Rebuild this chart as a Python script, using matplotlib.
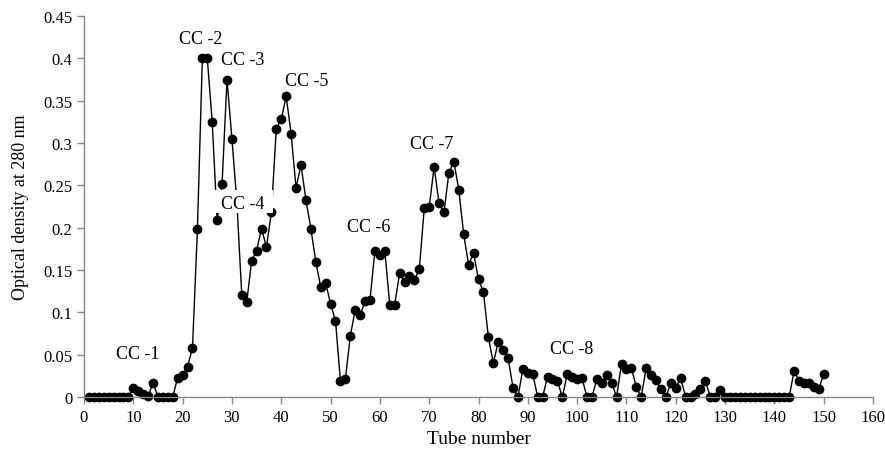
import matplotlib
matplotlib.use("Agg")
import matplotlib.pyplot as plt
from matplotlib.patches import Rectangle
import numpy as np

plt.rcParams['font.family'] = ['Liberation Serif', 'DejaVu Serif']

tubes = list(range(1, 151))
optical_density = (
    [0.0] * 9 +
    [0.011, 0.007, 0.003, 0.001, 0.017] +
    [0.0] * 4 +
    [0.023, 0.026, 0.036, 0.058, 0.198, 0.400, 0.400, 0.325, 0.209, 0.252,
     0.375, 0.305, 0.230, 0.120, 0.112, 0.161, 0.173, 0.199, 0.177, 0.218,
     0.317, 0.328, 0.355, 0.311, 0.247, 0.274, 0.233, 0.199, 0.160, 0.130,
     0.135, 0.110, 0.090, 0.019, 0.021, 0.072, 0.103, 0.097, 0.113, 0.115,
     0.173, 0.168, 0.173, 0.109, 0.109, 0.146, 0.136, 0.143, 0.138, 0.151,
     0.223, 0.224, 0.272, 0.229, 0.218, 0.265, 0.278, 0.245, 0.192, 0.156,
     0.170, 0.139, 0.124, 0.071, 0.040, 0.065, 0.056, 0.046, 0.011, 0.000,
     0.033, 0.028, 0.027, 0.000, 0.000, 0.024, 0.021, 0.019, 0.000, 0.027,
     0.024, 0.021, 0.022, 0.000, 0.000, 0.021, 0.017, 0.026, 0.017, 0.000,
     0.039, 0.033, 0.034, 0.012, 0.000, 0.034, 0.026, 0.020, 0.009, 0.000,
     0.016, 0.011, 0.022, 0.000, 0.000, 0.004, 0.010, 0.019, 0.000, 0.000,
     0.008] +
    [0.0] * 14 +
    [0.031, 0.019, 0.016, 0.017, 0.012, 0.009, 0.027]
)
assert len(optical_density) == len(tubes)

peak_labels = ["CC -1", "CC -2", "CC -3", "CC -4", "CC -5", "CC -6", "CC -7", "CC -8"]
label_x = [10.8, 23.6, 32.2, 32.2, 45.2, 57.8, 70.5, 98.8]
label_y = [0.051, 0.423, 0.399, 0.228, 0.374, 0.201, 0.299, 0.057]

x_ticks = list(range(0, 161, 10))
y_ticks = [0, 0.05, 0.1, 0.15, 0.2, 0.25, 0.3, 0.35, 0.4, 0.45]
y_tick_labels = ["0", "0.05", "0.1", "0.15", "0.2", "0.25", "0.3", "0.35", "0.4", "0.45"]

fig = plt.figure(figsize=(8.85, 4.56), dpi=100)
ax = fig.add_axes([84 / 885, 1 - 398 / 456, (873 - 84) / 885, (398 - 17) / 456])

ax.plot(tubes, optical_density, color='black', linewidth=1.0, marker='o',
        markersize=6, markerfacecolor='black', markeredgecolor='black',
        clip_on=False, zorder=2)

for txt, lx, ly in zip(peak_labels, label_x, label_y):
    ax.text(lx, ly, txt, fontsize=13, ha='center', va='center', zorder=5)
    if txt == "CC -4":
        # white label background (as in the original data label) hiding the lines behind it
        ax.add_patch(Rectangle((lx - 6.0, ly - 0.0105), 12.2, 0.027,
                               facecolor='white', edgecolor='none', zorder=4))

ax.set_xlim(0, 160)
ax.set_ylim(0, 0.45)
ax.set_xticks(x_ticks)
ax.set_yticks(y_ticks)
ax.set_yticklabels(y_tick_labels)

grey = '#868686'
for side in ['top', 'right']:
    ax.spines[side].set_visible(False)
for side in ['left', 'bottom']:
    ax.spines[side].set_color(grey)
    ax.spines[side].set_linewidth(1.0)
ax.tick_params(axis='both', direction='out', length=5, width=1.0, color=grey,
               labelsize=12, labelcolor='black')

ax.set_xlabel("Tube number", fontsize=14, labelpad=4)
ax.set_ylabel("Optical density at 280 nm", fontsize=13, labelpad=10)

fig.savefig("out.png", dpi=100)
